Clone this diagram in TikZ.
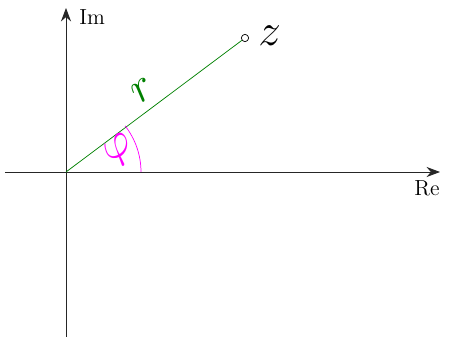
\documentclass[tikz,border=0pt]{standalone}
\usetikzlibrary{arrows.meta,positioning}
\definecolor{rgreen}{RGB}{0,128,0}
\definecolor{phimag}{RGB}{255,0,255}
\tikzset{
  >={Stealth[length=2.6mm]},
  axis/.style={->,line width=0.5pt,draw=black!85},
  axlabel/.style={font=\large},
  radius line/.style={draw=rgreen,thin},
  angle arc/.style={draw=phimag,thin},
  pointmark/.style={circle,draw=black,thin,inner sep=0pt,minimum size=4pt},
}
\begin{document}
\begin{tikzpicture}[x=0.55pt,y=0.55pt]
  \useasboundingbox (-66,-165) rectangle (389,172);
  % axes
  \coordinate (O) at (0,0);
  \coordinate (xl) at (-61,0);
  \coordinate (xr) at (374,0);
  \coordinate (yb) at (0,-165);
  \coordinate (yt) at (0,164);
  \draw[axis] (xl) -- (xr);
  \draw[axis] (yb) -- (yt);
  \node[axlabel,anchor=west] (im) at (7,155) {Im};
  \node[axlabel] (re) at (361,-16) {Re};
  % point z
  \node[pointmark] (z) at (179,134) {};
  \node[font=\Huge,anchor=west] (zl) at (186,136) {$z$};
  \draw[radius line] (O) -- (z);
  \node[font=\Huge,text=rgreen,rotate=37] (r) at (77,82) {$r$};
  % angle
  \draw[angle arc] (75,0) arc (0:38:75);
  \node[font=\Huge,text=phimag,rotate=37] (phi) at (54,21) {$\varphi$};
\end{tikzpicture}
\end{document}
